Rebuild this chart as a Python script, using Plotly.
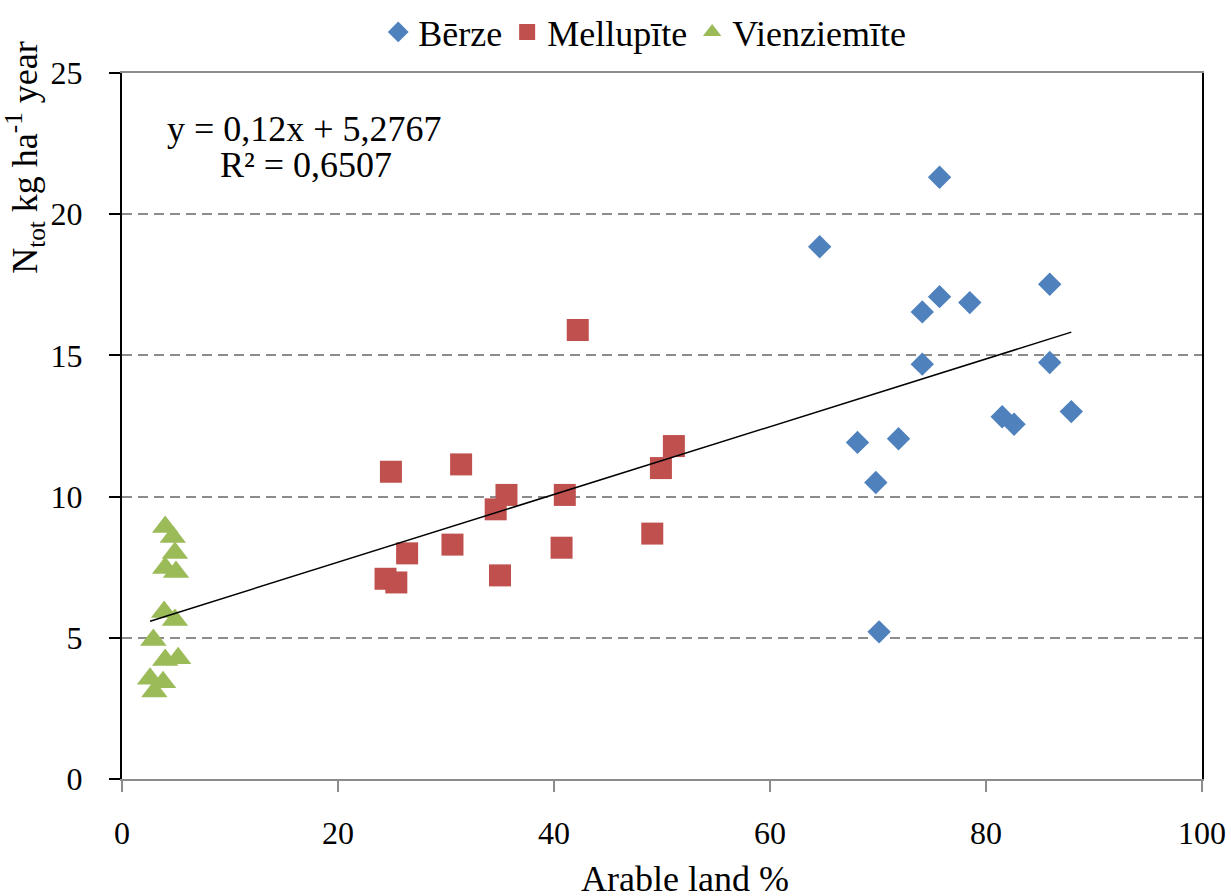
import plotly.graph_objects as go

# ---- data ----
berze_x = [75.7, 64.6, 85.9, 75.7, 78.5, 74.1, 74.1, 85.9, 87.9, 81.5, 82.6, 71.9, 68.1, 69.8, 70.1]
berze_y = [21.31, 18.85, 17.52, 17.08, 16.87, 16.54, 14.69, 14.75, 13.01, 12.83, 12.56, 12.05, 11.92, 10.50, 5.21]

mell_x = [42.2, 24.9, 31.4, 51.1, 49.9, 35.6, 34.6, 41.0, 49.1, 30.6, 40.7, 26.4, 35.0, 24.4, 25.4]
mell_y = [15.90, 10.88, 11.14, 11.79, 11.01, 10.06, 9.55, 10.06, 8.69, 8.30, 8.19, 7.99, 7.21, 7.09, 6.96]

vien_x = [4.0, 4.7, 4.9, 4.0, 5.0, 3.9, 4.9, 2.9, 4.0, 5.2, 2.6, 3.8, 3.0]
vien_y = [8.92, 8.57, 8.00, 7.47, 7.33, 5.91, 5.63, 4.92, 4.21, 4.28, 3.55, 3.43, 3.10]

series_names = ["Bērze", "Mellupīte", "Vienziemīte"]
trend_slope = 0.12
trend_intercept = 5.2767
eq_text = "y = 0,12x + 5,2767"
r2_text = "R² = 0,6507"
x_title = "Arable land %"
y_title = "N<sub>tot</sub> kg ha<sup>-1</sup> year"

x_ticks = [0, 20, 40, 60, 80, 100]
y_ticks = [0, 5, 10, 15, 20, 25]

FONT = "Liberation Serif, Times New Roman, serif"

fig = go.Figure()

fig.add_trace(go.Scatter(x=berze_x, y=berze_y, mode="markers", name=series_names[0],
                         marker=dict(symbol="diamond", size=18, color="#4F81BD", line=dict(width=0))))
fig.add_trace(go.Scatter(x=mell_x, y=mell_y, mode="markers", name=series_names[1],
                         marker=dict(symbol="square", size=22, color="#C0504D", line=dict(width=0))))
fig.add_trace(go.Scatter(x=vien_x, y=vien_y, mode="markers", name=series_names[2],
                         marker=dict(symbol="triangle-up", size=23, color="#9BBB59", line=dict(width=0))))

all_x = berze_x + mell_x + vien_x
tx = [min(all_x), max(all_x)]
ty = [trend_slope * v + trend_intercept for v in tx]
fig.add_trace(go.Scatter(x=tx, y=ty, mode="lines", showlegend=False,
                         line=dict(color="black", width=1.5)))

fig.add_annotation(x=16.9, y=23.0, xref="x", yref="y", text=eq_text, showarrow=False,
                   font=dict(family=FONT, size=36, color="black"), xanchor="center", yanchor="middle")
fig.add_annotation(x=17.0, y=21.75, xref="x", yref="y", text=r2_text, showarrow=False,
                   font=dict(family=FONT, size=36, color="black"), xanchor="center", yanchor="middle")

fig.add_annotation(x=-0.0898, y=0.88, xref="paper", yref="paper",
                   text=y_title, textangle=-90, showarrow=False,
                   font=dict(family=FONT, size=36, color="black"), xanchor="center", yanchor="middle")
fig.add_annotation(x=0.521, y=-0.1415, xref="paper", yref="paper",
                   text=x_title, showarrow=False,
                   font=dict(family=FONT, size=36, color="black"), xanchor="center", yanchor="middle")

fig.update_layout(
    width=1231, height=896,
    margin=dict(l=122, r=29, t=73, b=117, autoexpand=False),
    paper_bgcolor="white", plot_bgcolor="white",
    font=dict(family=FONT, size=32, color="black"),
    legend=dict(orientation="h", x=0.484, y=1.058, xanchor="center", yanchor="middle",
                font=dict(family=FONT, size=36, color="black"), itemwidth=30,
                bgcolor="rgba(0,0,0,0)"),
    xaxis=dict(range=[0, 100], tickvals=x_ticks, showgrid=False, zeroline=False,
               showline=True, linecolor="#8C8C8C", linewidth=2, mirror=True,
               ticks="outside", ticklen=11, tickcolor="#8C8C8C", tickwidth=2,
               ticklabelstandoff=14, tickfont=dict(family=FONT, size=32, color="black")),
    yaxis=dict(range=[0, 25], tickvals=y_ticks, showgrid=True, gridcolor="#8C8C8C",
               griddash="10px,6px", gridwidth=1.5, zeroline=False,
               showline=True, linecolor="black", linewidth=2, mirror=True,
               ticks="outside", ticklen=11, tickcolor="black", tickwidth=2,
               ticklabelstandoff=20, tickfont=dict(family=FONT, size=32, color="black")),
)

fig.write_html("out.html", config={"displayModeBar": False},
               post_script="document.body.style.margin='0px';")
